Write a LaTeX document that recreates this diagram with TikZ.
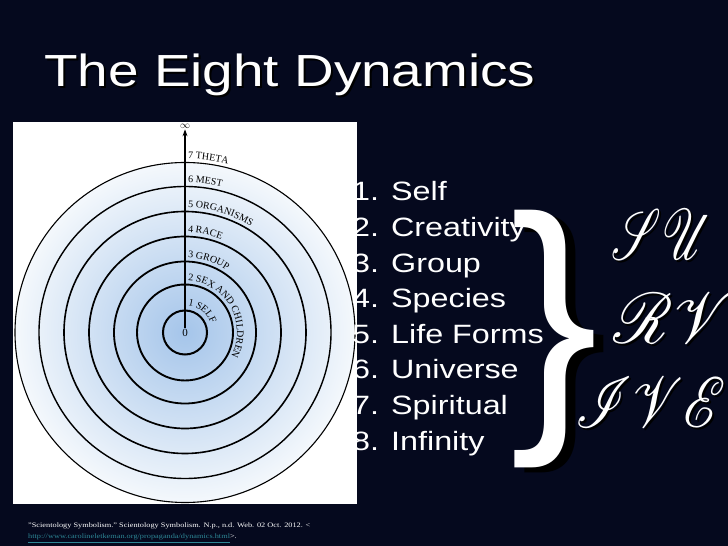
\documentclass[tikz,border=0pt]{standalone}
\usepackage{fontspec}
\usepackage{mathrsfs}
\setmainfont{Liberation Serif}
\setsansfont{Liberation Sans}
\usetikzlibrary{arrows.meta,decorations.text}

\definecolor{slidenavy}{RGB}{5,9,30}
\definecolor{ringblue}{RGB}{165,197,234}
\definecolor{ringpale}{RGB}{244,248,252}
\definecolor{linkteal}{RGB}{45,135,150}

\newcommand{\widetxt}[1]{\scalebox{1.22}[1]{#1}}
\newcommand{\labfont}{\fontsize{10}{10}\selectfont}

\begin{document}
\begin{tikzpicture}[x=1pt,y=1pt,
    title/.style={font=\sffamily\fontsize{45}{45}\selectfont, anchor=base west, inner sep=0pt},
    item/.style={font=\sffamily\fontsize{26.5}{26.5}\selectfont, text=white, anchor=base west, inner sep=0pt},
    survive/.style={inner sep=0pt},
    cite/.style={font=\fontsize{6.8}{6.8}\selectfont, text=white, anchor=base west, inner sep=0pt}]
	\fill[slidenavy] (0,0) rectangle (728,546);
	\useasboundingbox (0,0) rectangle (728,546);
	% title
	\node[title, text=black] at (46,457) {\widetxt{The Eight Dynamics}};
	\node[title, text=white] (title) at (44,459) {\widetxt{The Eight Dynamics}};
	% the rings
	\fill[white] (13,42) rectangle (357,424);
	\coordinate (c) at (185,213.5);
	\shade[inner color=ringblue, outer color=ringpale] (c) circle (170);
	\foreach \r/\w in {22/2.0,48/1.9,71/1.8,96/1.7,121/1.6,146/1.4,170/1.1}
		\draw[line width=\w pt] (c) circle (\r);
	\node[font=\fontsize{11}{11}\selectfont, inner sep=1pt] (zero) at (c) {0};
	\node[font=\fontsize{10}{10}\selectfont, inner sep=1pt] (inf) at (185,420) {$\infty$};
	\draw[line width=1.2pt, -{Stealth[length=7pt,width=5pt]}] (zero.north) -- (inf.south);
	\foreach \r/\lab in {27/1 SELF,52/2 SEX AND CHILDREN,75/3 GROUP,100/4 RACE,125/5 ORGANISMS,150/6 MEST,174/7 THETA}
		\path[decorate, decoration={text along path, text align={left indent=3pt},
			text/.expanded={|\noexpand\labfont|\lab}}] ([shift={(c)}]90:\r) arc (90:-90:\r);
	% the list
	\foreach \i/\name in {1/Self,2/Creativity,3/Group,4/Species,5/Life Forms,6/Universe,7/Spiritual,8/Infinity}
		\node[item] (dyn\i) at (352,{345-35.6*(\i-1)}) {\widetxt{\i. \name}};
	\node[font=\sffamily, text=black, inner sep=0pt] at (565,202) {\resizebox{88pt}{200pt}{\}}};
	\node[font=\sffamily, text=white, inner sep=0pt] (brace) at (555,207) {\resizebox{88pt}{200pt}{\}}};
	\foreach \word/\x/\y/\w in {SU/662/312/100,RV/673/228/118,IVE/651/144/150}{
		\node[survive, text=black] at (\x+2,\y-2) {\resizebox{\w pt}{50pt}{$\mathscr{\word}$}};
		\node[survive, text=white] (word\word) at (\x,\y) {\resizebox{\w pt}{50pt}{$\mathscr{\word}$}};
	}
	% source
	\node[cite] (cite1) at (28,19) {\widetxt{"Scientology Symbolism." Scientology Symbolism. N.p., n.d. Web. 02 Oct. 2012. <}};
	\node[cite] (cite2) at (28,7) {\widetxt{{\color{linkteal}\underline{http://www.carolineletkeman.org/propaganda/dynamics.html}}>.}};
\end{tikzpicture}
\end{document}
